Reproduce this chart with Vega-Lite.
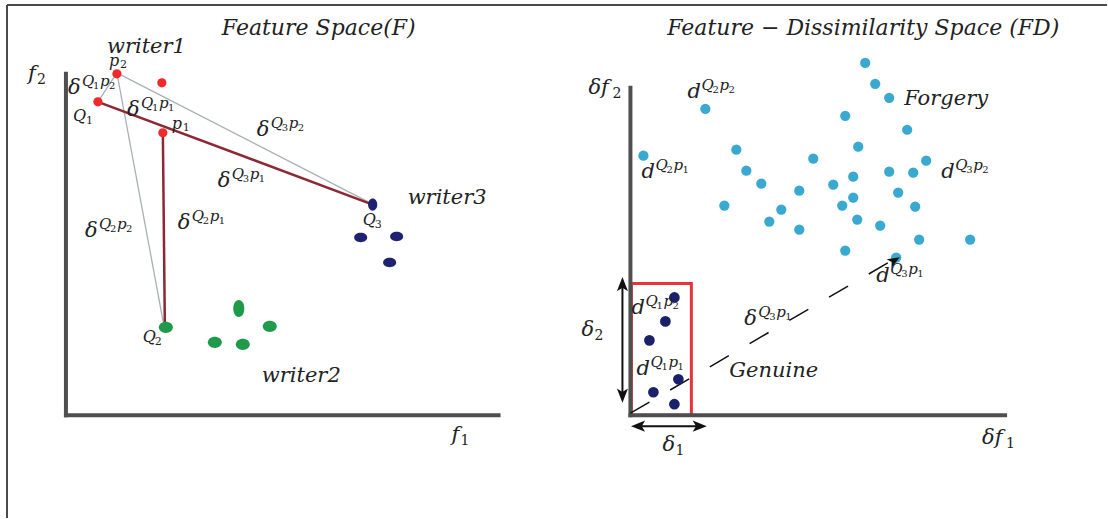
{
  "$schema": "https://vega.github.io/schema/vega-lite/v6.json",
  "width": 1108,
  "height": 519,
  "padding": 0,
  "autosize": {"type": "fit", "contains": "padding"},
  "background": "white",
  "config": {"view": {"stroke": null}},
  "datasets": {
    "frame": [
      {"x": 7, "y": 5, "x2": 1108, "y2": 5},
      {"x": 7, "y": 5, "x2": 7, "y2": 519}
    ],
    "box": [{"x": 632, "x2": 692, "y": 284, "y2": 416}],
    "axes": [
      {"x": 66, "y": 72, "x2": 66, "y2": 418},
      {"x": 64, "y": 416, "x2": 501, "y2": 416},
      {"x": 631, "y": 86, "x2": 631, "y2": 418},
      {"x": 629, "y": 416, "x2": 1008, "y2": 416}
    ],
    "grayLines": [
      {"x": 117, "y": 73, "x2": 372, "y2": 204},
      {"x": 117, "y": 73, "x2": 164, "y2": 326},
      {"x": 98, "y": 102, "x2": 117, "y2": 73}
    ],
    "darkLines": [
      {"x": 98, "y": 102, "x2": 373, "y2": 205},
      {"x": 163, "y": 133, "x2": 165, "y2": 328}
    ],
    "dashed": [{"x": 631, "y": 414, "x2": 891, "y2": 262}],
    "arrowLines": [
      {"x": 623, "y": 288, "x2": 623, "y2": 393},
      {"x": 642, "y": 427, "x2": 697, "y2": 427}
    ],
    "headUp": [{"x": 623, "y": 285}],
    "headDown": [{"x": 623, "y": 396}],
    "headLeft": [{"x": 639, "y": 427}],
    "headRight": [{"x": 700, "y": 427}],
    "headDiag": [{"x": 895, "y": 261}],
    "cyan": [
      {"x": 866, "y": 63}, {"x": 876, "y": 84}, {"x": 890, "y": 98}, {"x": 706, "y": 109},
      {"x": 846, "y": 116}, {"x": 908, "y": 130}, {"x": 644, "y": 156}, {"x": 737, "y": 150},
      {"x": 859, "y": 147}, {"x": 814, "y": 159}, {"x": 927, "y": 161}, {"x": 747, "y": 171},
      {"x": 890, "y": 172}, {"x": 914, "y": 173}, {"x": 854, "y": 177}, {"x": 762, "y": 184},
      {"x": 834, "y": 185}, {"x": 800, "y": 191}, {"x": 899, "y": 193}, {"x": 854, "y": 198},
      {"x": 843, "y": 206}, {"x": 725, "y": 206}, {"x": 916, "y": 207}, {"x": 782, "y": 210},
      {"x": 770, "y": 222}, {"x": 858, "y": 220}, {"x": 881, "y": 226}, {"x": 800, "y": 230},
      {"x": 920, "y": 240}, {"x": 971, "y": 240}, {"x": 846, "y": 251}, {"x": 897, "y": 258}
    ],
    "navy": [
      {"x": 675, "y": 298}, {"x": 666, "y": 322}, {"x": 650, "y": 341},
      {"x": 679, "y": 380}, {"x": 654, "y": 393}, {"x": 675, "y": 405}
    ],
    "red": [
      {"x": 117, "y": 74}, {"x": 162, "y": 83}, {"x": 98, "y": 102}, {"x": 163, "y": 133}
    ],
    "blueH": [{"x": 361, "y": 238}, {"x": 397, "y": 237}, {"x": 390, "y": 263}],
    "blueV": [{"x": 373, "y": 205}],
    "greenH": [{"x": 166, "y": 328}, {"x": 270, "y": 327}, {"x": 215, "y": 343}, {"x": 243, "y": 345}],
    "greenV": [{"x": 239, "y": 309}],
    "titles": [
      {"x": 319, "y": 35, "text": "Feature Space(F)"},
      {"x": 864, "y": 35, "text": "Feature − Dissimilarity Space (FD)"}
    ],
    "bigLabels": [
      {"x": 107, "y": 53, "text": "writer1"},
      {"x": 408, "y": 204, "text": "writer3"},
      {"x": 262, "y": 383, "text": "writer2"},
      {"x": 905, "y": 105, "text": "Forgery"},
      {"x": 730, "y": 378, "text": "Genuine"},
      {"x": 28, "y": 80, "text": "f"},
      {"x": 452, "y": 442, "text": "f"},
      {"x": 589, "y": 94, "text": "δf"},
      {"x": 983, "y": 445, "text": "δf"},
      {"x": 582, "y": 337, "text": "δ"},
      {"x": 663, "y": 452, "text": "δ"}
    ],
    "bigSubs": [
      {"x": 37, "y": 84, "text": "2"},
      {"x": 461, "y": 446, "text": "1"},
      {"x": 613, "y": 98, "text": "2"},
      {"x": 1007, "y": 449, "text": "1"},
      {"x": 595, "y": 341, "text": "2"},
      {"x": 676, "y": 456, "text": "1"}
    ],
    "pointLabels": [
      {"x": 73, "y": 121, "text": "Q"},
      {"x": 172, "y": 129, "text": "p"},
      {"x": 109, "y": 66, "text": "p"},
      {"x": 363, "y": 225, "text": "Q"},
      {"x": 143, "y": 343, "text": "Q"}
    ],
    "pointSubs": [
      {"x": 86, "y": 124, "text": "1"},
      {"x": 183, "y": 131, "text": "1"},
      {"x": 120, "y": 68, "text": "2"},
      {"x": 375, "y": 228, "text": "3"},
      {"x": 155, "y": 346, "text": "2"}
    ],
    "symbols": [
      {"x": 68, "y": 94, "base": "δ", "a": "1", "b": "2"},
      {"x": 127, "y": 116, "base": "δ", "a": "1", "b": "1"},
      {"x": 257, "y": 136, "base": "δ", "a": "3", "b": "2"},
      {"x": 218, "y": 187, "base": "δ", "a": "3", "b": "1"},
      {"x": 178, "y": 229, "base": "δ", "a": "2", "b": "1"},
      {"x": 85, "y": 237, "base": "δ", "a": "2", "b": "2"},
      {"x": 688, "y": 98, "base": "d", "a": "2", "b": "2"},
      {"x": 642, "y": 178, "base": "d", "a": "2", "b": "1"},
      {"x": 942, "y": 178, "base": "d", "a": "3", "b": "2"},
      {"x": 877, "y": 283, "base": "d", "a": "3", "b": "1"},
      {"x": 745, "y": 326, "base": "δ", "a": "3", "b": "1"},
      {"x": 632, "y": 315, "base": "d", "a": "1", "b": "2"},
      {"x": 637, "y": 376, "base": "d", "a": "1", "b": "1"}
    ]
  },
  "encoding": {
    "x": {"field": "x", "type": "quantitative", "scale": {"domain": [0, 1108], "nice": false, "zero": false}, "axis": null},
    "y": {"field": "y", "type": "quantitative", "scale": {"domain": [0, 519], "nice": false, "zero": false, "reverse": true}, "axis": null}
  },
  "layer": [
    {"data": {"name": "frame"}, "mark": {"type": "rule", "color": "#4a4a4a", "strokeWidth": 2}, "encoding": {"x2": {"field": "x2"}, "y2": {"field": "y2"}}},
    {"data": {"name": "box"}, "mark": {"type": "rect", "fill": null, "fillOpacity": 0, "stroke": "#e5353b", "strokeWidth": 3}, "encoding": {"x2": {"field": "x2"}, "y2": {"field": "y2"}}},
    {"data": {"name": "axes"}, "mark": {"type": "rule", "color": "#4f4f4f", "strokeWidth": 4}, "encoding": {"x2": {"field": "x2"}, "y2": {"field": "y2"}}},
    {"data": {"name": "grayLines"}, "mark": {"type": "rule", "color": "#aab0b9", "strokeWidth": 1.3}, "encoding": {"x2": {"field": "x2"}, "y2": {"field": "y2"}}},
    {"data": {"name": "darkLines"}, "mark": {"type": "rule", "color": "#8c2833", "strokeWidth": 2.5}, "encoding": {"x2": {"field": "x2"}, "y2": {"field": "y2"}}},
    {"data": {"name": "dashed"}, "mark": {"type": "rule", "color": "#111", "strokeWidth": 1.5, "strokeDash": [22, 24]}, "encoding": {"x2": {"field": "x2"}, "y2": {"field": "y2"}}},
    {"data": {"name": "arrowLines"}, "mark": {"type": "rule", "color": "#111", "strokeWidth": 2}, "encoding": {"x2": {"field": "x2"}, "y2": {"field": "y2"}}},
    {"data": {"name": "headUp"}, "mark": {"type": "point", "shape": "M0,-1L0.75,0.9L0,0.45L-0.75,0.9Z", "filled": true, "color": "#111", "opacity": 1, "size": 220, "angle": 0}},
    {"data": {"name": "headDown"}, "mark": {"type": "point", "shape": "M0,-1L0.75,0.9L0,0.45L-0.75,0.9Z", "filled": true, "color": "#111", "opacity": 1, "size": 220, "angle": 180}},
    {"data": {"name": "headLeft"}, "mark": {"type": "point", "shape": "M0,-1L0.75,0.9L0,0.45L-0.75,0.9Z", "filled": true, "color": "#111", "opacity": 1, "size": 220, "angle": 270}},
    {"data": {"name": "headRight"}, "mark": {"type": "point", "shape": "M0,-1L0.75,0.9L0,0.45L-0.75,0.9Z", "filled": true, "color": "#111", "opacity": 1, "size": 220, "angle": 90}},
    {"data": {"name": "cyan"}, "mark": {"type": "circle", "color": "#3aa9cf", "opacity": 1, "size": 105}},
    {"data": {"name": "headDiag"}, "mark": {"type": "point", "shape": "M0,-1L0.75,0.9L0,0.45L-0.75,0.9Z", "filled": true, "color": "#111", "opacity": 1, "size": 170, "angle": 60}},
    {"data": {"name": "navy"}, "mark": {"type": "circle", "color": "#1b206b", "opacity": 1, "size": 115}},
    {"data": {"name": "red"}, "mark": {"type": "circle", "color": "#ee2a2a", "opacity": 1, "size": 85}},
    {"data": {"name": "blueH"}, "mark": {"type": "point", "shape": "M-1,0C-1,-0.42 -0.55,-0.72 0,-0.72C0.55,-0.72 1,-0.42 1,0C1,0.42 0.55,0.72 0,0.72C-0.55,0.72 -1,0.42 -1,0Z", "filled": true, "color": "#1e2270", "opacity": 1, "size": 169}},
    {"data": {"name": "blueV"}, "mark": {"type": "point", "shape": "M0,-1C0.42,-1 0.75,-0.55 0.75,0C0.75,0.55 0.42,1 0,1C-0.42,1 -0.75,0.55 -0.75,0C-0.75,-0.55 -0.42,-1 0,-1Z", "filled": true, "color": "#1e2270", "opacity": 1, "size": 150}},
    {"data": {"name": "greenH"}, "mark": {"type": "point", "shape": "M-1,0C-1,-0.45 -0.55,-0.8 0,-0.8C0.55,-0.8 1,-0.45 1,0C1,0.45 0.55,0.8 0,0.8C-0.55,0.8 -1,0.45 -1,0Z", "filled": true, "color": "#1f9a4b", "opacity": 1, "size": 196}},
    {"data": {"name": "greenV"}, "mark": {"type": "point", "shape": "M0,-1C0.4,-1 0.65,-0.55 0.65,0C0.65,0.55 0.4,1 0,1C-0.4,1 -0.65,0.55 -0.65,0C-0.65,-0.55 -0.4,-1 0,-1Z", "filled": true, "color": "#1f9a4b", "opacity": 1, "size": 289}},
    {"data": {"name": "titles"}, "mark": {"type": "text", "font": "DejaVu Serif", "fontStyle": "italic", "fontSize": 22, "align": "center", "baseline": "alphabetic", "color": "#222"}, "encoding": {"text": {"field": "text"}}},
    {"data": {"name": "bigLabels"}, "mark": {"type": "text", "font": "DejaVu Serif", "fontStyle": "italic", "fontSize": 21, "align": "left", "baseline": "alphabetic", "color": "#222"}, "encoding": {"text": {"field": "text"}}},
    {"data": {"name": "bigSubs"}, "mark": {"type": "text", "font": "DejaVu Serif", "fontSize": 14, "align": "left", "baseline": "alphabetic", "color": "#222"}, "encoding": {"text": {"field": "text"}}},
    {"data": {"name": "pointLabels"}, "mark": {"type": "text", "font": "DejaVu Serif", "fontStyle": "italic", "fontSize": 16, "align": "left", "baseline": "alphabetic", "color": "#222"}, "encoding": {"text": {"field": "text"}}},
    {"data": {"name": "pointSubs"}, "mark": {"type": "text", "font": "DejaVu Serif", "fontSize": 11, "align": "left", "baseline": "alphabetic", "color": "#222"}, "encoding": {"text": {"field": "text"}}},
    {"data": {"name": "symbols"}, "mark": {"type": "text", "font": "DejaVu Serif", "fontStyle": "italic", "fontSize": 21, "align": "left", "baseline": "alphabetic", "color": "#222"}, "encoding": {"text": {"field": "base"}}},
    {"data": {"name": "symbols"}, "mark": {"type": "text", "font": "DejaVu Serif", "fontStyle": "italic", "fontSize": 15, "align": "left", "baseline": "alphabetic", "color": "#222", "dx": 14, "dy": -8}, "encoding": {"text": {"value": "Q"}}},
    {"data": {"name": "symbols"}, "mark": {"type": "text", "font": "DejaVu Serif", "fontSize": 10, "align": "left", "baseline": "alphabetic", "color": "#222", "dx": 25, "dy": -5}, "encoding": {"text": {"field": "a"}}},
    {"data": {"name": "symbols"}, "mark": {"type": "text", "font": "DejaVu Serif", "fontStyle": "italic", "fontSize": 15, "align": "left", "baseline": "alphabetic", "color": "#222", "dx": 32, "dy": -8}, "encoding": {"text": {"value": "p"}}},
    {"data": {"name": "symbols"}, "mark": {"type": "text", "font": "DejaVu Serif", "fontSize": 10, "align": "left", "baseline": "alphabetic", "color": "#222", "dx": 41, "dy": -5}, "encoding": {"text": {"field": "b"}}}
  ]
}
